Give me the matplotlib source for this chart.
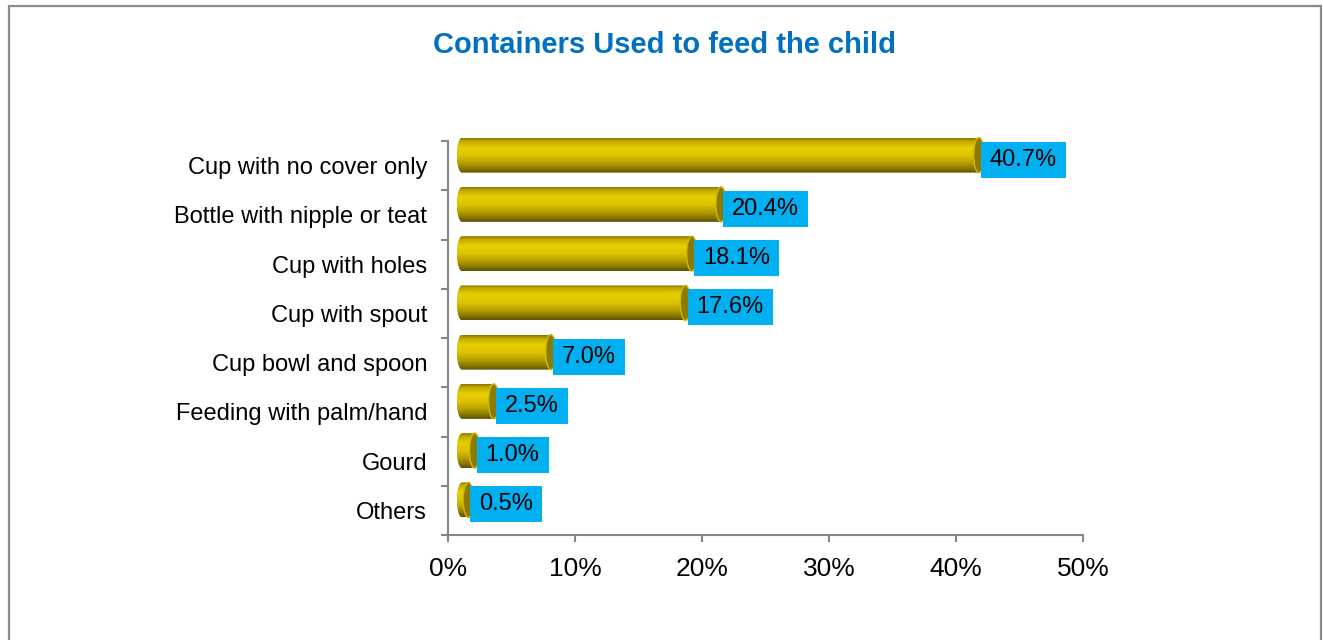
import numpy as np
import matplotlib
matplotlib.use("Agg")
import matplotlib.pyplot as plt
from matplotlib.path import Path
from matplotlib.patches import Ellipse, PathPatch, Rectangle
from matplotlib.colors import LinearSegmentedColormap

plt.rcParams["font.family"] = ["Liberation Sans", "DejaVu Sans"]

# Data
categories = [
    "Cup with no cover only",
    "Bottle with nipple or teat",
    "Cup with holes",
    "Cup with spout",
    "Cup bowl and spoon",
    "Feeding with palm/hand",
    "Gourd",
    "Others",
]
values = [40.7, 20.4, 18.1, 17.6, 7.0, 2.5, 1.0, 0.5]
x_ticks = [0, 10, 20, 30, 40, 50]
x_tick_labels = ["0%", "10%", "20%", "30%", "40%", "50%"]
title = "Containers Used to feed the child"

W, H, DPI = 1323, 640, 100
fig = plt.figure(figsize=(W / DPI, H / DPI), dpi=DPI)
fig.patch.set_facecolor("white")

# Outer frame of the chart area
fig.add_artist(Rectangle((8.5 / W, -0.05), (1321 - 8.5) / W, 1.05 - 6 / H,
                         transform=fig.transFigure, fill=False,
                         edgecolor="#8c8c8c", linewidth=1.6))

ax_left, ax_right, ax_top, ax_bottom = 448, 1083, 141, 535
ax = fig.add_axes([ax_left / W, 1 - ax_bottom / H,
                   (ax_right - ax_left) / W, (ax_bottom - ax_top) / H])
n = len(categories)
ax.set_xlim(0, 50)
ax.set_ylim(-0.5, n - 0.5)

px_x = (ax_right - ax_left) / 50.0      # pixels per percent
px_y = (ax_bottom - ax_top) / n         # pixels per category slot

# 3-D cylinder geometry (in pixels, converted to data units)
depth_dx = 14 / px_x      # left end-cap centre offset from the axis
depth_dy = 10.5 / px_y    # cylinders sit slightly above slot centres
rx = 5.2 / px_x           # half-width of elliptical end caps
bh = 35 / px_y            # cylinder height

shade = LinearSegmentedColormap.from_list("cyl", [
    (0.00, "#8a7a00"), (0.10, "#c4ab00"), (0.28, "#e8cf00"),
    (0.50, "#ddc300"), (0.72, "#b59d00"), (0.88, "#877600"),
    (1.00, "#5c5100")])
grad = np.linspace(0, 1, 256).reshape(-1, 1)

for i, (cat, v) in enumerate(zip(categories, values)):
    yc = (n - 1 - i) + depth_dy
    x0 = depth_dx
    x1 = x0 + v
    top, bot = yc + bh / 2, yc - bh / 2
    # body outline: rectangle plus rounded left end
    t = np.linspace(-np.pi / 2, np.pi / 2, 40)
    left_arc = np.column_stack([x0 - rx * np.cos(t), yc + bh / 2 * np.sin(t)])
    verts = np.vstack([[x0, top], [x1, top], [x1, bot], [x0, bot],
                       left_arc, [[x0, top]]])
    body = PathPatch(Path(verts), facecolor="none", edgecolor="none",
                     transform=ax.transData, clip_on=False)
    ax.add_patch(body)
    img = ax.imshow(grad, cmap=shade, aspect="auto",
                    extent=[x0 - rx, x1 + rx, bot, top],
                    interpolation="bilinear", zorder=2)
    img.set_clip_box(fig.bbox)
    img.set_clip_path(body)
    # right end cap
    ax.add_patch(Ellipse((x1, yc), 2 * rx, bh, facecolor="#8b7b02",
                         edgecolor="#d2b900", linewidth=1.0, zorder=3,
                         clip_on=False))

ax.set_xlim(0, 50)
ax.set_ylim(-0.5, n - 0.5)


def label_box(x0, y0, width, height, mutation_size):
    pad_x = 9
    box_h = 36
    cy = y0 + height / 2
    bx0, bx1 = x0 - pad_x, x0 + width + pad_x
    by0, by1 = cy - box_h / 2, cy + box_h / 2
    return Path([(bx0, by0), (bx1, by0), (bx1, by1), (bx0, by1), (bx0, by0)],
                closed=True)


for i, v in enumerate(values):
    yc = (n - 1 - i) + depth_dy
    ax.annotate(f"{v:.1f}%", xy=(depth_dx + v, yc), xytext=(11, -4.5),
                textcoords="offset pixels", ha="left", va="center",
                fontsize=17, color="black", zorder=5, annotation_clip=False,
                bbox=dict(boxstyle=label_box, facecolor="#00b0f0",
                          edgecolor="none"))

# Axes styling
for s in ["top", "right"]:
    ax.spines[s].set_visible(False)
for s in ["left", "bottom"]:
    ax.spines[s].set_color("#868686")
    ax.spines[s].set_linewidth(1.5)

ax.set_xticks(x_ticks)
ax.set_xticklabels(x_tick_labels, fontsize=19)
ax.tick_params(axis="x", length=5, width=1.5, color="#868686", pad=11)

ax.set_yticks(np.arange(-0.5, n, 1.0))
ax.set_yticklabels([])
ax.set_yticks(np.arange(n), minor=True)
ax.set_yticklabels(categories[::-1], minor=True, fontsize=17)
ax.tick_params(axis="y", which="major", length=5, width=1.5, color="#868686")
ax.tick_params(axis="y", which="minor", length=0, pad=15)

fig.text(664.5 / W, 1 - 53 / H, title, ha="center", va="baseline",
         fontsize=21, fontweight="bold", color="#0070c0")

fig.savefig("out.png", dpi=DPI)
